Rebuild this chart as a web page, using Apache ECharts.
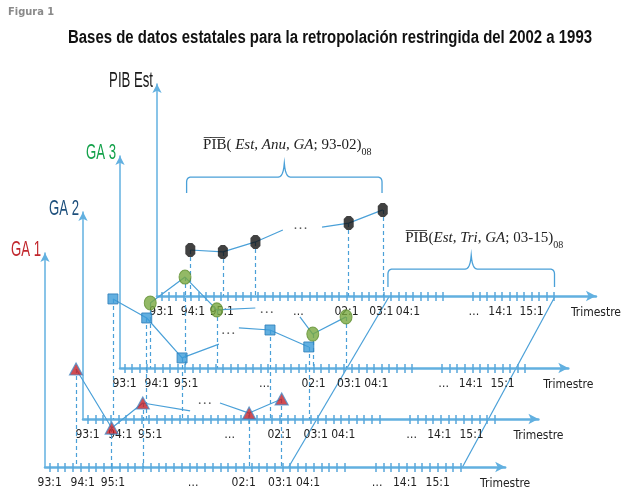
<!DOCTYPE html>
<html><head><meta charset="utf-8">
<script src="https://cdn.jsdelivr.net/npm/echarts@6/dist/echarts.min.js"></script>
<style>html,body{margin:0;padding:0;background:#fff}#c{width:622px;height:495px}</style>
</head><body><div id="c"></div>
<script>
// ---------- data ----------
const tickLabels   = ['93:1','94:1','95:1','…','02:1','03:1','04:1','…','14:1','15:1'];
const tickLabelPos = [0, 4.25, 8.15, 18.5, 25, 29.7, 33.3, 42.2, 45.8, 50];
const tickRanges   = [[0, 38], [42, 53]];           // quarters with ticks (gap = "…")
const panelNames   = ['GA 1', 'GA 2', 'GA 3', 'PIB Est'];
const xName        = 'Trimestre';
const titleText    = 'Bases de datos estatales para la retropolación restringida del 2002 a 1993';

// GA 1 (triangles)
const ga1Q = [3.4, 8.0, 12.0, 25.7, 29.9];
const ga1V = [45.8, 18.2, 29.9, 25.2, 31.8];
const ga1Cut = [[18.1, 26.2], [21.95, 29.9]];
const ga1Dots = [20.0, 29.9];
// GA 2 (squares)
const ga2Q = [3.3, 7.7, 12.3, 23.75, 28.8];
const ga2V = [58.0, 48.8, 29.5, 43.0, 34.8];
const ga2Cut = [[17.1, 36.2], [19.7, 44.0]];
const ga2Dots = [18.3, 41.5];
// GA 3 (circles)
const ga3Q = [3.4, 8.0, 12.2, 24.9, 29.3];
const ga3V = [30.7, 42.9, 27.4, 16.0, 24.1];
const ga3Cut = [[17.3, 28.3], [23.2, 24.1]];
const ga3Dots = [18.8, 26.4];
// PIB Est (black)
const pibQ = [3.9, 8.3, 12.7, 25.3, 29.9];
const pibV = [21.7, 20.8, 25.5, 34.4, 40.6];
const pibCut = [[16.4, 31.1], [21.7, 32.5]];
const pibDots = [18.8, 32.1];

// ---------- layout / style ----------
const NARROW = '"DejaVu Sans Condensed","Liberation Sans Narrow",sans-serif';
const SANS = '"Liberation Sans",Arial,sans-serif';
const SERIF = '"Liberation Serif","DejaVu Serif",serif';
const LINE = '#4aa0d8';
const AXIS = '#62b0e0';
const TICK = '#5aa8dc';
const X_MIN = -0.6, X_MAX = 58.7;
const panels = [
  {left: 45,  base: 467, top: 253, scale: 7.76, color: '#c1272d'},
  {left: 83,  base: 419, top: 212, scale: 7.68, color: '#1d4f7c'},
  {left: 120, base: 368, top: 156, scale: 7.56, color: '#13a14a'},
  {left: 157, base: 296, top: 84,  scale: 7.56, color: '#1a1a1a'}
];
const tickPos = [];
tickRanges.forEach(r => { for (let q = r[0]; q <= r[1]; q++) tickPos.push(q); });

const grids = [], xAxes = [], xAxesUp = [], yAxes = [];
panels.forEach((p, i) => {
  const h = p.base - p.top;
  grids.push({left: p.left, top: p.top, width: (X_MAX - X_MIN) * p.scale, height: h, containLabel: false});
  xAxes.push({
    type: 'value', gridIndex: i, min: X_MIN, max: X_MAX, position: 'bottom',
    splitLine: {show: false},
    axisLine: {show: true, onZero: false, lineStyle: {color: AXIS, width: 2.5}, symbol: ['none', 'arrow'], symbolSize: [8, 10]},
    axisTick: {show: true, customValues: tickPos, length: 5, lineStyle: {color: TICK, width: 1.5}},
    axisLabel: {show: true, customValues: tickLabelPos, margin: 10, fontSize: 12, fontFamily: NARROW, color: '#222',
      formatter: v => { let k = 0, d = 1e9; tickLabelPos.forEach((t, j) => { if (Math.abs(t - v) < d) { d = Math.abs(t - v); k = j; } }); return tickLabels[k]; }},
    name: xName, nameLocation: 'end', nameGap: 0,
    nameTextStyle: {fontSize: 12, fontFamily: NARROW, color: '#222', align: 'center', verticalAlign: 'top', padding: [11, 0, 0, 0]}
  });
  // second axis carrying the upper half of the ticks, pushed down onto the base line
  xAxesUp.push({
    type: 'value', gridIndex: i, min: X_MIN, max: X_MAX, position: 'top', offset: -h,
    splitLine: {show: false}, axisLine: {show: false, onZero: false}, axisLabel: {show: false},
    axisTick: {show: true, inside: false, customValues: tickPos, length: 4, lineStyle: {color: TICK, width: 1.5}}
  });
  yAxes.push({
    type: 'value', gridIndex: i, min: 0, max: 100, splitLine: {show: false},
    axisLine: {show: true, onZero: false, lineStyle: {color: AXIS, width: 1.5}, symbol: ['none', 'arrow'], symbolSize: [7, 9]},
    axisTick: {show: false}, axisLabel: {show: false}
  });
});

const markerStyles = [
  {symbol: 'triangle', symbolSize: [13, 12], itemStyle: {color: '#c62128', borderColor: '#4a8fc9', borderWidth: 1.2}},
  {symbol: 'rect', symbolSize: [10, 10], itemStyle: {color: '#3b9bd8', borderColor: '#2b7cb8', borderWidth: 1}},
  {symbol: 'circle', symbolSize: [12, 14], itemStyle: {color: '#78a840', borderColor: '#5f8f30', borderWidth: 1}},
  {symbol: 'path://M3,0L7,0L10,3L10,11L7,14L3,14L0,11L0,3Z', symbolSize: [10, 14], itemStyle: {color: '#111'}}
];
const sets = [
  [ga1Q, ga1V, ga1Cut, ga1Dots],
  [ga2Q, ga2V, ga2Cut, ga2Dots],
  [ga3Q, ga3V, ga3Cut, ga3Dots],
  [pibQ, pibV, pibCut, pibDots]
];
const series = [];
sets.forEach((s, i) => {
  const [Q, V, cut, dots] = s;
  const pts = Q.map((q, j) => [q, V[j]]);
  const ls = {color: LINE, width: 1.2};
  series.push({type: 'line', xAxisIndex: i, yAxisIndex: i, data: [pts[0], pts[1], pts[2], cut[0]], showSymbol: false, symbol: 'none', lineStyle: ls, silent: true, z: 3});
  series.push({type: 'line', xAxisIndex: i, yAxisIndex: i, data: [cut[1], pts[3], pts[4]], showSymbol: false, symbol: 'none', lineStyle: ls, silent: true, z: 3});
  series.push(Object.assign({
    type: 'scatter', xAxisIndex: i, yAxisIndex: i, data: pts, z: 5, silent: true,
    markLine: {silent: true, symbol: ['none', 'none'], label: {show: false},
      lineStyle: {type: [4, 3], color: LINE, width: 1.2}, z: 2,
      data: pts.map(p => [{coord: [p[0], p[1]]}, {coord: [p[0], 0]}])}
  }, markerStyles[i]));
  series.push({type: 'scatter', xAxisIndex: i, yAxisIndex: i, data: [dots], symbolSize: 0, silent: true, z: 4,
    label: {show: true, position: 'inside', formatter: '…', fontSize: 15, fontFamily: SERIF, color: '#333', offset: [0, -3]}});
});

const option = {
  animation: false,
  backgroundColor: '#fff',
  title: [
    {text: 'Figura 1', left: 3, top: 2, textStyle: {fontSize: 11, fontWeight: 'bold', fontFamily: NARROW, color: '#8a8a8a'}}
  ],
  grid: grids,
  xAxis: xAxes.concat(xAxesUp),
  yAxis: yAxes,
  series: series
};
const chart = echarts.init(document.getElementById('c'), null, {renderer: 'canvas'});
chart.setOption(option);

// ---------- annotations anchored to the axes ----------
const mctx = document.createElement('canvas').getContext('2d');
function textW(font, s) { mctx.font = font; return mctx.measureText(s).width; }
function px(i, q, v) { return chart.convertToPixel({xAxisIndex: i, yAxisIndex: i}, [q, v]); }
const graphics = [];

// title, condensed to its width in the reference
const TF = 'bold 18px ' + SANS;
graphics.push({type: 'text', silent: true, x: 68, y: 38, scaleX: 524 / textW(TF, titleText),
  style: {text: titleText, font: TF, fill: '#111', align: 'left', verticalAlign: 'middle'}});

// axis names (condensed)
const NF = '22px ' + SANS;
const nameScale = 30 / textW(NF, 'GA 1');
panels.forEach((p, i) => {
  const t = px(i, X_MIN, 100);
  graphics.push({type: 'text', silent: true, x: t[0] - 4, y: t[1] - 3, scaleX: nameScale,
    style: {text: panelNames[i], font: NF, fill: p.color, align: 'right', verticalAlign: 'middle'}});
});

// slanted links between the panel axes
const linkQ = [30.8, 53.2];
linkQ.forEach(q => {
  const a = px(0, q, 0), b = px(3, q, 0);
  graphics.push({type: 'line', silent: true, shape: {x1: a[0], y1: a[1], x2: b[0], y2: b[1]}, style: {stroke: LINE, lineWidth: 1.2}});
});

// curly braces
function quad(out, p0, p1, p2) { for (let k = 1; k <= 6; k++) { const t = k / 6, u = 1 - t;
  out.push([u * u * p0[0] + 2 * u * t * p1[0] + t * t * p2[0], u * u * p0[1] + 2 * u * t * p1[1] + t * t * p2[1]]); } }
function brace(x1, x2, y, leg, rise) {
  const m = (x1 + x2) / 2, pts = [[x1, y + leg], [x1, y + 5]];
  quad(pts, [x1, y + 5], [x1, y], [x1 + 5, y]);
  pts.push([m - 6, y]);
  quad(pts, [m - 6, y], [m - 1, y], [m, y - rise]);
  quad(pts, [m, y - rise], [m + 1, y], [m + 6, y]);
  pts.push([x2 - 5, y]);
  quad(pts, [x2 - 5, y], [x2, y], [x2, y + 5]);
  pts.push([x2, y + leg]);
  return pts;
}
const braces = [{from: 3.4, to: 29.8, lvl: 56.1, leg: 16, rise: 14}, {from: 30.6, to: 53.1, lvl: 12.7, leg: 18, rise: 14}];
braces.forEach(b => {
  const a = px(3, b.from, b.lvl), c = px(3, b.to, b.lvl);
  graphics.push({type: 'polyline', silent: true, shape: {points: brace(a[0], c[0], a[1], b.leg, b.rise)},
    style: {fill: null, stroke: LINE, lineWidth: 1.3}});
});
const rich = {
  n: {fontFamily: SERIF, fontSize: 15, fill: '#222', color: '#222'},
  i: {fontFamily: SERIF, fontSize: 15, fontStyle: 'italic', fill: '#222', color: '#222'},
  s: {fontFamily: SERIF, fontSize: 10, fill: '#222', color: '#222', verticalAlign: 'bottom', padding: [0, 0, -5, 0]}
};
const braceTexts = [
  {q: 17.0, v: 71.2, text: '{n|P\u0305I\u0305B\u0305(}{i| Est}{n|, }{i|Anu}{n|, }{i|GA}{n|; 93-02)}{s|08}'},
  {q: 43.6, v: 27.4, text: '{n|P\u0305I\u0305B\u0305(}{i|Est}{n|, }{i|Tri}{n|, }{i|GA}{n|; 03-15)}{s|08}'}
];
braceTexts.forEach(t => {
  const p = px(3, t.q, t.v);
  graphics.push({type: 'text', silent: true, x: p[0], y: p[1], style: {text: t.text, rich: rich, align: 'center', verticalAlign: 'middle'}});
});
chart.setOption({graphic: graphics});
</script>
</body></html>
